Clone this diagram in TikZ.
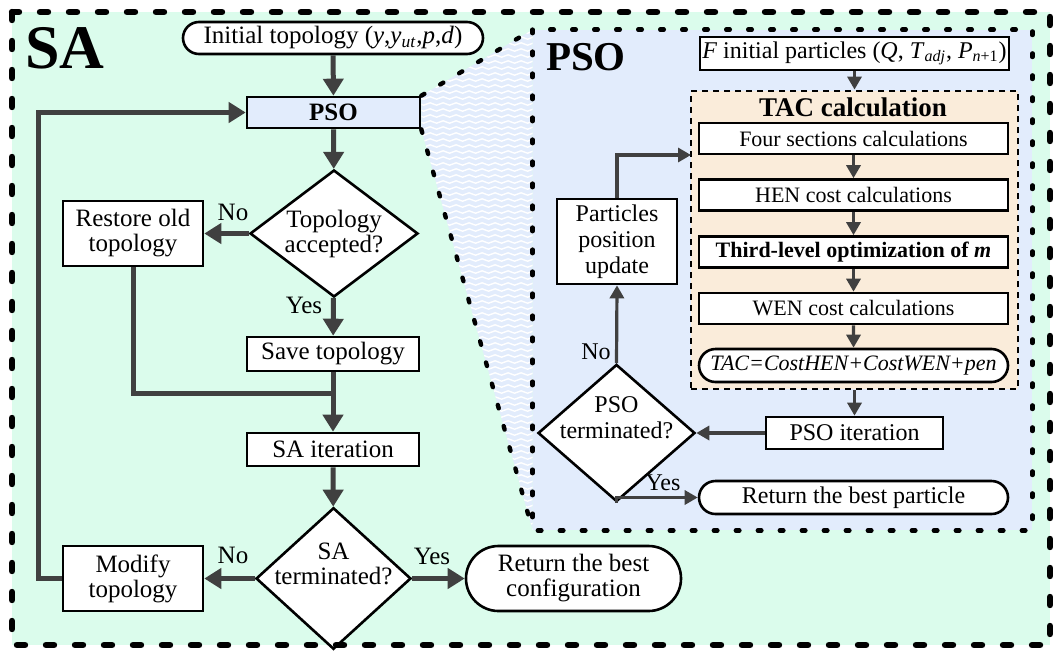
\documentclass[tikz,border=0pt]{standalone}
\usepackage{fontspec}
\setmainfont{Liberation Serif}
\usetikzlibrary{arrows.meta,shapes.geometric,shapes.misc,decorations.pathmorphing}

\definecolor{sagreen}{RGB}{219,252,236}
\definecolor{psoblue}{RGB}{226,236,252}
\definecolor{tacorange}{RGB}{250,236,218}
\definecolor{flowgray}{RGB}{64,64,64}

\begin{document}
\begin{tikzpicture}[x=0.5pt, y=-0.5pt,
    font=\fontsize{12.5}{12.5}\selectfont,
    box/.style={draw, line width=1.3pt, fill=white, inner sep=0pt, align=center},
    term/.style={box, rounded rectangle},
    decision/.style={box, diamond, inner sep=-6pt},
    tacbox/.style={box, minimum width=154.5pt, minimum height=15.5pt, font=\fontsize{11}{11}\selectfont},
    psotext/.style={font=\fontsize{12}{13}\selectfont},
    flow/.style={draw=flowgray, line width=2.5pt, -{Triangle[width=10pt,length=8.5pt]}},
    thinflow/.style={draw=flowgray, line width=1.6pt, -{Triangle[width=7pt,length=6.5pt]}},
    sadash/.style={line width=3.2pt, dash pattern=on 4pt off 10.5pt, line cap=round},
    psodash/.style={line width=2.2pt, dash pattern=on 1.8pt off 9.2pt, line cap=round},
    tacdash/.style={line width=1.4pt, dash pattern=on 2.8pt off 2.7pt}]
  \useasboundingbox (0,0) rectangle (1058,653);
  \fill[sagreen] (12,12) rectangle (1050,645);
  \node[fill=psoblue, inner sep=0pt, minimum width=249.5pt, minimum height=250pt] (psoframe) at (782.5,280) {};

  % SA loop
  \node[font=\fontsize{31}{31}\selectfont\bfseries] (satitle) at (65,48) {SA};
  \node[term, minimum width=150pt, minimum height=16pt] (init) at (333,38) {Initial topology (\textit{y},\textit{y}\textsubscript{\textit{ut}},\textit{p},\textit{d})};
  \node[box, fill=psoblue, minimum width=86.5pt, minimum height=15.5pt, font=\fontsize{12.5}{12.5}\selectfont\bfseries] (pso) at (333.5,112.5) {PSO};
  \node[decision, minimum width=84pt, minimum height=63.5pt] (accept) at (334,233.5) {Topology\\accepted?};
  \node[box, minimum width=70pt, minimum height=32.5pt] (restore) at (133,233.5) {Restore old\\topology};
  \node[box, minimum width=86pt, minimum height=17pt] (save) at (333,354) {Save topology};
  \coordinate (merge) at (333,393);
  \node[box, minimum width=86pt, minimum height=16.5pt] (saiter) at (333,449.5) {SA iteration};
  \node[decision, minimum width=77.5pt, minimum height=59.5pt, text depth=15pt] (saterm) at (333.5,578.5) {SA\\terminated?};
  \node[box, minimum width=70pt, minimum height=32.5pt] (modify) at (133,578.5) {Modify\\topology};
  \node[term, minimum width=107.5pt, minimum height=32.5pt] (bestconf) at (573.5,578.5) {Return the best\\configuration};
  \coordinate (loop) at (38,578.5);
  \node (no1) at (233,212) {No};
  \node (yes1) at (304,305) {Yes};
  \node (no2) at (233,555) {No};
  \node (yes2) at (432,556) {Yes};

  % zoom funnel
  \begin{scope}
    \clip (pso.north east) -- (psoframe.north west) -- (psoframe.south west) -- (pso.south east) -- cycle;
    \fill[psoblue] (400,0) rectangle (540,560);
    \foreach \yy in {14,20,...,544}
      \draw[white, line width=0.7pt, decorate, decoration={snake, segment length=6.5pt, amplitude=0.6pt}] (400,\yy) -- (545,\yy);
  \end{scope}
  \draw[psodash] (pso.north east) -- (psoframe.north west);
  \draw[psodash] (pso.south east) -- (psoframe.south west);
  \draw[psodash] (psoframe.north west) rectangle (psoframe.south east);

  % PSO loop
  \node[font=\fontsize{20.5}{20.5}\selectfont\bfseries] (psotitle) at (586,57) {PSO};
  \node[box, psotext, minimum width=154.5pt, minimum height=16.5pt] (pinit) at (854.5,53.5) {\textit{F} initial particles (\textit{Q}, \textit{T}\textsubscript{\textit{adj}}, \textit{P}\textsubscript{\textit{n}+1})};
  \node[fill=tacorange, draw, tacdash, inner sep=0pt, minimum width=163.5pt, minimum height=149pt] (tac) at (854.5,240) {};
  \node[font=\fontsize{13.5}{13.5}\selectfont\bfseries] (tactitle) at (853,107) {TAC calculation};
  \node[tacbox] (four) at (853.5,138.5) {Four sections calculations};
  \node[tacbox] (hen) at (853.5,195) {HEN cost calculations};
  \node[tacbox, font=\fontsize{11}{11}\selectfont\bfseries] (third) at (853.5,252) {Third-level optimization of \textit{m}};
  \node[tacbox] (wen) at (853.5,308.5) {WEN cost calculations};
  \node[tacbox, rounded rectangle, minimum height=16.5pt] (taceq) at (853.5,365.5) {\textit{TAC=CostHEN+CostWEN+pen}};
  \node[box, psotext, minimum width=88.5pt, minimum height=16pt] (psoiter) at (854.5,433) {PSO iteration};
  \node[decision, psotext, minimum width=78.5pt, minimum height=60pt, text depth=15pt] (psoterm) at (616.5,433) {PSO\\terminated?};
  \node[term, psotext, minimum width=154.5pt, minimum height=16.5pt] (bestpart) at (853.5,497.5) {Return the best particle};
  \node[box, psotext, minimum width=60pt, minimum height=42.5pt] (update) at (617,241.5) {Particles\\position\\update};
  \coordinate (tacin) at (691,155);
  \node[psotext] (no3) at (596,352) {No};
  \node[psotext] (yes3) at (663,483) {Yes};

  % connectors
  \draw[flow] (init) -- (pso);
  \draw[flow] (pso) -- (accept);
  \draw[flow] (accept) -- (restore);
  \draw[flow] (accept) -- (save);
  \draw[draw=flowgray, line width=2.5pt] (restore.south) |- (merge);
  \draw[flow] (save) -- (saiter);
  \draw[flow] (saiter) -- (saterm);
  \draw[flow] (saterm) -- (modify);
  \draw[flow] (saterm) -- (bestconf);
  \draw[flow] (modify.west) -- (loop) |- (pso.west);

  \draw[thinflow] (pinit) -- (tac.north);
  \draw[thinflow] (four) -- (hen);
  \draw[thinflow] (hen) -- (third);
  \draw[thinflow] (third) -- (wen);
  \draw[thinflow] (wen) -- (taceq);
  \draw[thinflow] (tac.south) -- (psoiter);
  \draw[thinflow] (psoiter) -- (psoterm);
  \draw[thinflow] (psoterm.south) |- (bestpart.west);
  \draw[thinflow] (psoterm.north) -- (update.south);
  \draw[thinflow] (update.north) |- (tacin);

  \draw[sadash] (12,12) rectangle (1050,645);
\end{tikzpicture}
\end{document}
